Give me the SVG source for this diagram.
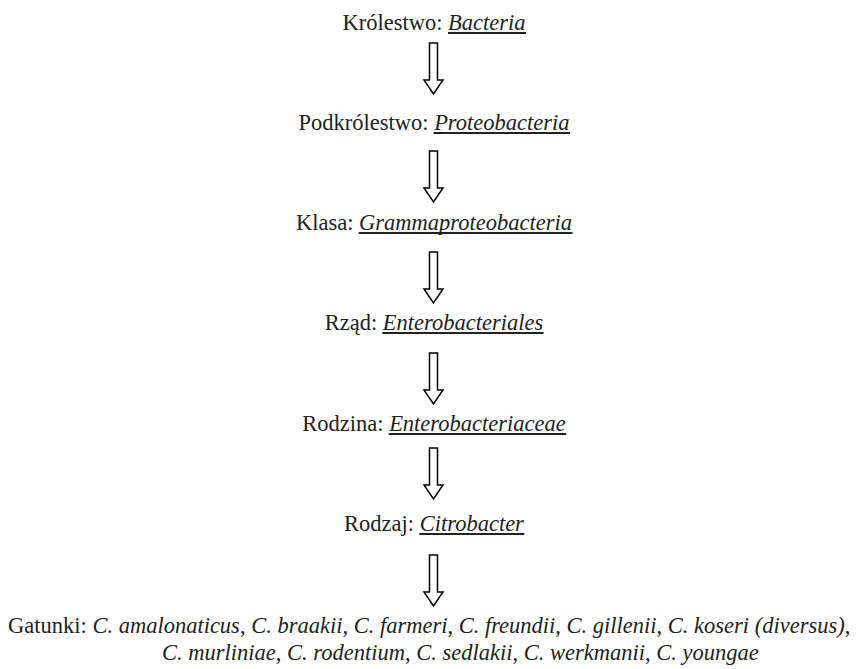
<svg xmlns="http://www.w3.org/2000/svg" width="858" height="669" viewBox="0 0 858 669">
<style>
text{font-family:"Liberation Serif","Times New Roman",serif;font-size:22.5px;fill:#222}
.i{font-style:italic}
.u{stroke:#222;stroke-width:1.8}
.arr{fill:#fff;stroke:#000;stroke-width:1.5;stroke-linejoin:miter}
</style>
<defs>
<path id="arrow" class="arr" d="M429.5,0 H437.5 V37 H443 L433.5,51 L424,37 H429.5 Z"/>
</defs>
<rect width="858" height="669" fill="#fff"/>
<g id="n1"><text x="434" y="30" text-anchor="middle">Królestwo: <tspan class="i">Bacteria</tspan></text><line class="u" x1="448" y1="33" x2="526" y2="33"/></g>
<g id="n2"><text x="434" y="130" text-anchor="middle">Podkrólestwo: <tspan class="i">Proteobacteria</tspan></text><line class="u" x1="433.6" y1="133" x2="570" y2="133"/></g>
<g id="n3"><text x="434" y="230" text-anchor="middle">Klasa: <tspan class="i">Grammaproteobacteria</tspan></text><line class="u" x1="358.7" y1="233" x2="572.5" y2="233"/></g>
<g id="n4"><text x="434" y="330" text-anchor="middle">Rząd: <tspan class="i">Enterobacteriales</tspan></text><line class="u" x1="382.4" y1="333" x2="543.6" y2="333"/></g>
<g id="n5"><text x="434" y="431" text-anchor="middle">Rodzina: <tspan class="i">Enterobacteriaceae</tspan></text><line class="u" x1="388.7" y1="434" x2="566.2" y2="434"/></g>
<g id="n6"><text x="434" y="531" text-anchor="middle">Rodzaj: <tspan class="i">Citrobacter</tspan></text><line class="u" x1="419.3" y1="534" x2="524.3" y2="534"/></g>
<g id="n7"><text x="8" y="633">Gatunki: <tspan class="i">C. amalonaticus</tspan>, <tspan class="i">C. braakii</tspan>, <tspan class="i">C. farmeri</tspan>, <tspan class="i">C. freundii</tspan>, <tspan class="i">C. gillenii</tspan>, <tspan class="i">C. koseri (diversus)</tspan>,</text>
<text x="162" y="660"><tspan class="i">C. murliniae</tspan>, <tspan class="i">C. rodentium</tspan>, <tspan class="i">C. sedlakii</tspan>, <tspan class="i">C. werkmanii</tspan>, <tspan class="i">C. youngae</tspan></text></g>
<g id="connectors">
<use href="#arrow" y="43"/>
<use href="#arrow" y="151"/>
<use href="#arrow" y="252"/>
<use href="#arrow" y="353"/>
<use href="#arrow" y="448"/>
<use href="#arrow" y="555"/>
</g>
</svg>
